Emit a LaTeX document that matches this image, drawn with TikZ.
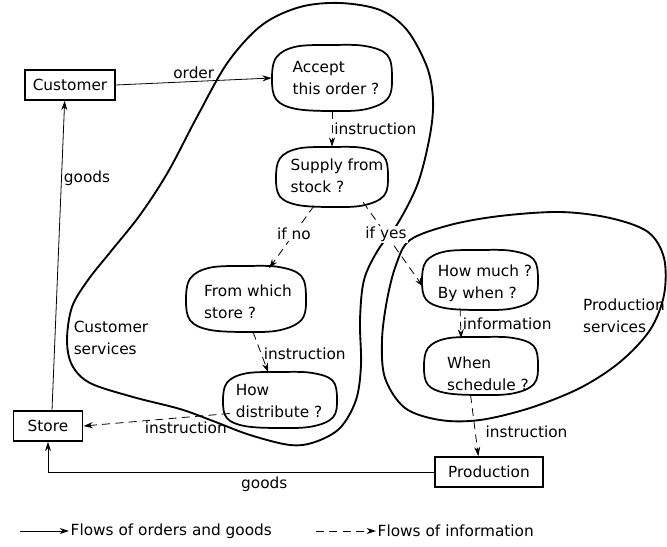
\documentclass[tikz,border=0pt]{standalone}
\usepackage{fontspec}
\setmainfont{DejaVu Sans}
\usetikzlibrary{arrows.meta,shapes.geometric}

\tikzset{
  tip/.style={-{Stealth[length=7pt,width=4.5pt]}},
  flow/.style={line width=0.6pt, tip},
  info/.style={flow, dash pattern=on 6pt off 4pt},
  box/.style={draw, line width=1.2pt, rectangle, inner sep=0pt, minimum height=22.5pt},
  blobnode/.style={ellipse, inner sep=0pt},
  blobtext/.style={align=left, inner sep=0pt},
  blobline/.style={line width=1.3pt},
  region/.style={line width=1.4pt},
  lbl/.style={inner sep=1.5pt},
  gap/.style={fill=white, inner sep=1pt},
}

% closed "thought bubble" outline around a named node: #2 = half width, #3 = half height
\newcommand\bubble[3]{%
  \draw[blobline, shift={(#1.center)}] plot[smooth cycle, tension=0.6] coordinates {
    ({-1.00*#2},{0.05*#3}) ({-0.93*#2},{-0.62*#3}) ({-0.60*#2},{-0.95*#3})
    ({0.00*#2},{-1.00*#3}) ({0.55*#2},{-0.97*#3}) ({0.92*#2},{-0.70*#3})
    ({1.00*#2},{-0.05*#3}) ({0.93*#2},{0.62*#3}) ({0.55*#2},{0.95*#3})
    ({-0.05*#2},{1.00*#3}) ({-0.62*#2},{0.93*#3}) ({-0.93*#2},{0.65*#3})};}

\begin{document}
\begin{tikzpicture}[x=0.75pt, y=-0.75pt,
  every node/.style={font=\fontsize{11.5}{16.5}\selectfont}]
\useasboundingbox (0,0) rectangle (667,546);

% ---- service regions ----
\draw[region] plot[smooth cycle, tension=0.55] coordinates {
  (300,7) (340,3) (380,10) (407,30) (427,67) (433,100) (430,135) (418,183)
  (398,223) (378,250) (364,280) (360,320) (361,365) (356,400) (340,428)
  (315,442) (290,445) (250,435) (213,421) (180,409) (133,397) (90,383)
  (72,365) (67,340) (72,307) (88,280) (112,250) (140,215) (168,172)
  (198,115) (228,62) (262,25)};
\draw[region] plot[smooth cycle, tension=0.55] coordinates {
  (410,240) (450,225) (500,216) (560,212) (610,218) (648,232) (664,258)
  (664,295) (650,330) (620,362) (580,388) (530,408) (480,420) (440,420)
  (405,408) (385,378) (382,340) (387,300) (396,265)};

% ---- outside units ----
\node[box, minimum width=67.5pt] (cust) at (70,85) {Customer};
\node[box, minimum width=52pt] (store) at (48,426) {Store};
\node[box, minimum width=81pt] (prod) at (489,472) {Production};

% ---- decision bubbles ----
\node[blobnode, minimum width=90pt, minimum height=49.5pt] (acc) at (332,78) {};
\node[blobnode, minimum width=84pt, minimum height=45pt] (sup) at (332,177) {};
\node[blobnode, minimum width=90pt, minimum height=49.5pt] (frm) at (246,299) {};
\node[blobnode, minimum width=85.5pt, minimum height=42pt] (hd) at (280,400) {};
\node[blobnode, minimum width=87pt, minimum height=45pt] (hm) at (480,280) {};
\node[blobnode, minimum width=85.5pt, minimum height=43.5pt] (ws) at (481,366) {};

\bubble{acc}{60}{33}
\bubble{sup}{56}{30}
\bubble{frm}{60}{33}
\bubble{hd}{57}{28}
\bubble{hm}{58}{30}
\bubble{ws}{57}{29}

\node[blobtext] (acc-t) at (336,78) {Accept\\this order ?};
\node[blobtext] (sup-t) at (337,176) {Supply from\\stock ?};
\node[blobtext] (frm-t) at (248,302) {From which\\store ?};
\node[blobtext] (hd-t) at (279,401) {How\\distribute ?};
\node[blobtext] (hm-t) at (485,283) {How much ?\\By when ?};
\node[blobtext] (ws-t) at (488,374) {When\\schedule ?};

% ---- region labels ----
\node[blobtext] (cs-l) at (111,338) {Customer\\services};
\node[blobtext] (ps-l) at (624,316) {Production\\services};

% ---- flows of orders and goods ----
\draw[flow] (cust.east) -- node[lbl, above] (order-l) {order} (acc.west);
\draw[flow] ([xshift=3pt]store.north) -- node[lbl, right, pos=0.75] (goods1-l) {goods} ([xshift=-4pt]cust.south);
\draw[flow] (prod.west) -| node[lbl, below, pos=0.22, yshift=-2pt] (goods2-l) {goods} (store.south);

% ---- flows of information ----
\draw[info] (acc.south) -- node[lbl, right] (i1-l) {instruction} (sup.north);
\draw[info] (sup.238) -- node[gap, pos=0.45] (ifno-l) {if no} (frm.53);
\draw[info] (sup.321) -- node[gap, pos=0.38] (ifyes-l) {if yes} (hm.187);
\draw[info] (frm.282) -- node[lbl, right, pos=0.55] (i2-l) {instruction} (hd.113);
\draw[info] (hd.195) -- node[lbl, below, pos=0.3, yshift=-2pt] (i3-l) {instruction} (store.east);
\draw[info] (hm.235) -- node[lbl, right] (inf-l) {information} (ws.126);
\draw[info] (ws.250) -- node[lbl, right, pos=0.6, xshift=6pt] (i4-l) {instruction} ([xshift=-8pt]prod.north);

% ---- key ----
\coordinate (k1a) at (20,531);
\coordinate (k1b) at (69,531);
\coordinate (k2a) at (316,531);
\coordinate (k2b) at (376,531);
\draw[flow] (k1a) -- (k1b) node[right, inner sep=1pt] (k1-l) {Flows of orders and goods};
\draw[info] (k2a) -- (k2b) node[right, inner sep=1pt] (k2-l) {Flows of information};
\end{tikzpicture}
\end{document}
